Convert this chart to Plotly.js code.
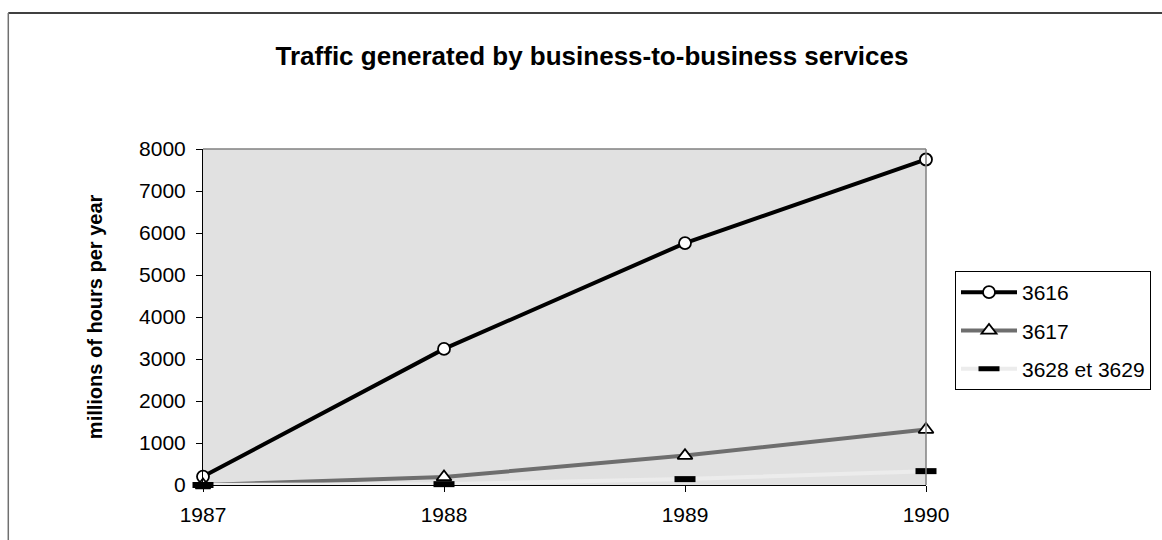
<!DOCTYPE html>
<html>
<head>
<meta charset="utf-8">
<script src="https://cdn.plot.ly/plotly-3.0.1.min.js"></script>
<style>
  html, body { margin: 0; padding: 0; background: #fff; }
  #chart { width: 1162px; height: 540px; }
</style>
</head>
<body>
<div id="chart"></div>
<script>
// Years on the horizontal axis
var years = [1987, 1988, 1989, 1990];
var yearLabels = ['1987', '1988', '1989', '1990'];

// Traffic per service, millions of hours per year
var s3616 = [200, 3240, 5760, 7750];
var s3617 = [0, 190, 700, 1320];
var s3628 = [0, 20, 140, 330];

var seriesNames = ['3616', '3617', '3628 et 3629'];

var FONT = '"Liberation Sans", Arial, sans-serif';

var traces = [
  {
    x: years, y: s3616, name: seriesNames[0], type: 'scatter', mode: 'lines+markers',
    legendgroup: 'a', cliponaxis: false,
    line: { color: '#000000', width: 4 },
    marker: { symbol: 'circle', size: 12, color: '#ffffff', line: { color: '#000000', width: 1.8 } }
  },
  {
    x: years, y: s3617, name: seriesNames[1], type: 'scatter', mode: 'lines+markers',
    legendgroup: 'b', cliponaxis: false,
    line: { color: '#6e6e6e', width: 4 },
    marker: { symbol: 'triangle-up', size: 13, color: '#ffffff', line: { color: '#000000', width: 1.8 } }
  },
  {
    x: years, y: s3628, name: seriesNames[2], type: 'scatter', mode: 'lines+markers',
    legendgroup: 'c', cliponaxis: false,
    line: { color: '#ececec', width: 4 },
    marker: { symbol: 'line-ew', size: 15, color: '#000000', line: { color: '#000000', width: 6 } }
  }
];

// Frame pieces around the plotting area and the chart
var shapes = [
  { type: 'line', xref: 'paper', yref: 'paper', x0: 0, x1: 1, y0: 1, y1: 1, line: { color: '#808080', width: 1.5 } },
  { type: 'line', xref: 'paper', yref: 'paper', x0: 1, x1: 1, y0: 0, y1: 1, line: { color: '#808080', width: 1.5 } },
  { type: 'line', xref: 'paper', yref: 'paper', x0: -0.2693, x1: 1.34, y0: 1.4048, y1: 1.4048, line: { color: '#000000', width: 1.5 } },
  { type: 'line', xref: 'paper', yref: 'paper', x0: -0.2693, x1: -0.2693, y0: -0.2, y1: 1.4048, line: { color: '#707070', width: 1.5 } }
];

var layout = {
  width: 1162,
  height: 540,
  margin: { l: 203, r: 235, t: 149, b: 55, pad: 0 },
  paper_bgcolor: '#ffffff',
  plot_bgcolor: '#e1e1e1',
  font: { family: FONT, size: 21, color: '#000000' },
  title: {
    text: '<b>Traffic generated by business-to-business services</b>',
    font: { family: FONT, size: 26, color: '#000000' },
    xref: 'container', yref: 'container',
    x: 592 / 1162, y: 1 - 56 / 540,
    xanchor: 'center', yanchor: 'middle'
  },
  xaxis: {
    range: [1987, 1990],
    tickvals: years,
    ticktext: yearLabels,
    showgrid: false,
    zeroline: false,
    showline: true,
    linecolor: '#000000',
    linewidth: 1,
    ticks: 'outside',
    ticklen: 6,
    tickcolor: '#000000',
    ticklabelstandoff: 5,
    tickfont: { family: FONT, size: 21, color: '#000000' },
    fixedrange: true
  },
  yaxis: {
    range: [0, 8000],
    dtick: 1000,
    tick0: 0,
    showgrid: false,
    zeroline: false,
    showline: true,
    linecolor: '#000000',
    linewidth: 1,
    ticks: 'outside',
    ticklen: 6,
    tickcolor: '#000000',
    ticklabelstandoff: 6,
    tickfont: { family: FONT, size: 21, color: '#000000' },
    title: { text: '' },
    fixedrange: true
  },
  annotations: [
    {
      xref: 'paper', yref: 'paper',
      x: (95 - 203) / 724, y: 0.5,
      xanchor: 'center', yanchor: 'middle',
      text: '<b>millions of hours per year</b>',
      textangle: -90,
      showarrow: false,
      font: { family: FONT, size: 20, color: '#000000' }
    }
  ],
  legend: {
    x: (955 - 203) / 724, y: (485 - 271) / 336,
    xanchor: 'left', yanchor: 'top',
    bgcolor: '#ffffff',
    bordercolor: '#000000',
    borderwidth: 1,
    traceorder: 'grouped',
    tracegroupgap: 8,
    itemwidth: 56,
    font: { family: FONT, size: 21, color: '#000000' }
  },
  shapes: shapes,
  showlegend: true
};

Plotly.newPlot('chart', traces, layout, { displayModeBar: false, staticPlot: true });
</script>
</body>
</html>
